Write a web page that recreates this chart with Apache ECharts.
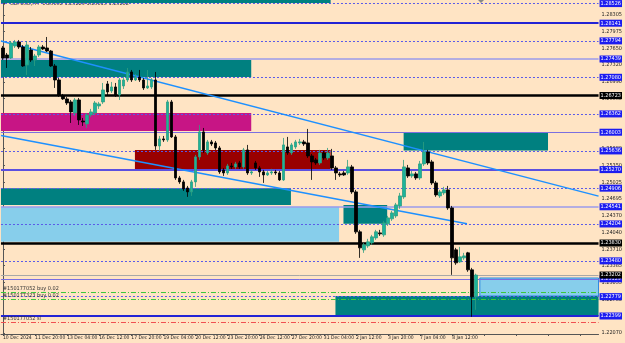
<!DOCTYPE html>
<html><head><meta charset="utf-8">
<script src="https://cdn.jsdelivr.net/npm/echarts@6/dist/echarts.min.js"></script>
<style>html,body{margin:0;padding:0;background:#FFE4C4;}#c{width:625px;height:343px;}</style>
</head><body><div id="c"></div>
<script>
// ---- data ----
const times = [
'10 Dec 12:00','10 Dec 16:00','10 Dec 20:00',
'11 Dec 00:00','11 Dec 04:00','11 Dec 08:00','11 Dec 12:00','11 Dec 16:00','11 Dec 20:00',
'12 Dec 00:00','12 Dec 04:00','12 Dec 08:00','12 Dec 12:00','12 Dec 16:00','12 Dec 20:00',
'13 Dec 00:00','13 Dec 04:00','13 Dec 08:00','13 Dec 12:00','13 Dec 16:00','13 Dec 20:00',
'16 Dec 00:00','16 Dec 04:00','16 Dec 08:00','16 Dec 12:00','16 Dec 16:00','16 Dec 20:00',
'17 Dec 00:00','17 Dec 04:00','17 Dec 08:00','17 Dec 12:00','17 Dec 16:00','17 Dec 20:00',
'18 Dec 00:00','18 Dec 04:00','18 Dec 08:00','18 Dec 12:00','18 Dec 16:00','18 Dec 20:00',
'19 Dec 00:00','19 Dec 04:00','19 Dec 08:00','19 Dec 12:00','19 Dec 16:00','19 Dec 20:00',
'20 Dec 00:00','20 Dec 04:00','20 Dec 08:00','20 Dec 12:00','20 Dec 16:00','20 Dec 20:00',
'23 Dec 00:00','23 Dec 04:00','23 Dec 08:00','23 Dec 12:00','23 Dec 16:00','23 Dec 20:00',
'24 Dec 00:00','24 Dec 04:00','24 Dec 08:00','24 Dec 12:00',
'26 Dec 00:00','26 Dec 04:00','26 Dec 08:00','26 Dec 12:00','26 Dec 16:00','26 Dec 20:00',
'27 Dec 00:00','27 Dec 04:00','27 Dec 08:00','27 Dec 12:00','27 Dec 16:00','27 Dec 20:00',
'30 Dec 00:00','30 Dec 04:00','30 Dec 08:00','30 Dec 12:00','30 Dec 16:00','30 Dec 20:00',
'31 Dec 00:00','31 Dec 04:00','31 Dec 08:00','31 Dec 12:00','31 Dec 16:00','31 Dec 20:00',
'2 Jan 00:00','2 Jan 04:00','2 Jan 08:00','2 Jan 12:00','2 Jan 16:00','2 Jan 20:00',
'3 Jan 00:00','3 Jan 04:00','3 Jan 08:00','3 Jan 12:00','3 Jan 16:00','3 Jan 20:00',
'6 Jan 00:00','6 Jan 04:00','6 Jan 08:00','6 Jan 12:00','6 Jan 16:00','6 Jan 20:00',
'7 Jan 00:00','7 Jan 04:00','7 Jan 08:00','7 Jan 12:00','7 Jan 16:00','7 Jan 20:00',
'8 Jan 00:00','8 Jan 04:00','8 Jan 08:00','8 Jan 12:00','8 Jan 16:00','8 Jan 20:00',
'9 Jan 00:00','9 Jan 04:00','9 Jan 08:00','9 Jan 12:00'
];
const firstLabel = '10 Dec 2024';
const open = [1.27655,1.27518,1.27459,1.27694,1.27773,1.27675,1.27322,1.27616,1.27420,1.27518,
1.27675,1.27655,1.27596,1.27302,1.27028,1.26714,1.26656,1.26597,1.26381,1.26636,
1.26223,1.26166,1.26342,1.26381,1.26518,1.26597,1.26950,1.26812,1.26891,1.26734,
1.26910,1.27028,1.27185,1.27028,1.27087,1.27028,1.26871,1.26891,1.27028,1.25734,
1.25872,1.25852,1.26597,1.25911,1.25107,1.25029,1.24911,1.24833,1.25029,1.25519,
1.26009,1.25597,1.25813,1.25793,1.25695,1.25264,1.25205,1.25342,1.25323,1.25401,
1.25323,1.25656,1.25205,1.25401,1.25303,1.25225,1.25166,1.25205,1.25225,1.25205,
1.25068,1.25715,1.25597,1.25715,1.25793,1.25813,1.25793,1.25538,1.25460,1.25401,
1.25597,1.25499,1.25538,1.25303,1.25186,1.25205,1.25205,1.25323,1.24833,1.24049,
1.23696,1.23774,1.23833,1.23931,1.24029,1.23990,1.24206,1.24304,1.24362,1.24558,
1.24735,1.25303,1.25146,1.25186,1.25107,1.25382,1.25617,1.25421,1.25009,1.24754,
1.24813,1.24872,1.24519,1.23696,1.23461,1.23539,1.23637,1.23304,1.22775];
const high = [1.27694,1.27557,1.27792,1.27812,1.27812,1.27714,1.27792,1.27675,1.27538,1.27714,
1.27714,1.27871,1.27616,1.27342,1.27067,1.26754,1.26695,1.26636,1.26675,1.26675,
1.26283,1.26381,1.26460,1.26616,1.26597,1.26969,1.27008,1.26989,1.26969,1.27067,
1.27087,1.27263,1.27224,1.27146,1.27224,1.27067,1.27224,1.27067,1.27185,1.25930,
1.25930,1.26636,1.26636,1.25950,1.25146,1.25068,1.24950,1.25068,1.25558,1.26146,
1.26087,1.25852,1.25852,1.25832,1.25734,1.25303,1.25382,1.25401,1.25421,1.25440,
1.25695,1.25754,1.25264,1.25440,1.25342,1.25264,1.25244,1.25284,1.25264,1.25244,
1.25891,1.25911,1.25793,1.25852,1.25872,1.25852,1.26068,1.25578,1.25499,1.25656,
1.25636,1.25695,1.25676,1.25342,1.25225,1.25244,1.25460,1.25362,1.24872,1.24088,
1.23833,1.23912,1.23990,1.24088,1.24088,1.24264,1.24362,1.24460,1.24617,1.24813,
1.25460,1.25362,1.25244,1.25225,1.25440,1.25813,1.25656,1.25460,1.25048,1.24872,
1.24931,1.24950,1.24558,1.23735,1.23755,1.23637,1.23657,1.23343,1.23229];
const low = [1.27420,1.27263,1.27440,1.27655,1.27636,1.27283,1.27126,1.27381,1.27302,1.27479,
1.27616,1.27577,1.27283,1.26871,1.26695,1.26636,1.26538,1.26185,1.26322,1.26146,
1.26126,1.26087,1.26303,1.26342,1.26460,1.26558,1.26714,1.26773,1.26695,1.26636,
1.26852,1.26989,1.26989,1.27008,1.26989,1.26832,1.26852,1.26852,1.25656,1.25636,
1.25813,1.25813,1.25891,1.25068,1.24990,1.24852,1.24735,1.24754,1.24931,1.25460,
1.25597,1.25558,1.25734,1.25656,1.25186,1.25146,1.25166,1.25284,1.25284,1.25284,
1.25284,1.25166,1.25166,1.25264,1.25127,1.25009,1.25146,1.25166,1.25166,1.25048,
1.25048,1.25558,1.25558,1.25676,1.25754,1.25734,1.25499,1.25068,1.25362,1.25362,
1.25460,1.25460,1.25264,1.25068,1.25127,1.25146,1.25166,1.24794,1.24010,1.23539,
1.23637,1.23735,1.23794,1.23892,1.23970,1.23951,1.24166,1.24264,1.24323,1.24500,
1.24696,1.25107,1.25107,1.25068,1.25068,1.25342,1.25362,1.24970,1.24735,1.24715,
1.24774,1.24480,1.23206,1.23402,1.23441,1.23500,1.23265,1.22383,1.22520];
const close = [1.27459,1.27459,1.27753,1.27773,1.27675,1.27302,1.27714,1.27420,1.27498,1.27675,
1.27636,1.27596,1.27302,1.27028,1.26734,1.26656,1.26577,1.26401,1.26636,1.26244,
1.26205,1.26342,1.26401,1.26577,1.26558,1.26832,1.26793,1.26891,1.26734,1.27028,
1.27028,1.27185,1.27028,1.27087,1.27028,1.26871,1.26910,1.27028,1.25734,1.25872,
1.25852,1.26597,1.25911,1.25107,1.25029,1.24892,1.24833,1.25029,1.25519,1.26009,
1.25656,1.25813,1.25774,1.25695,1.25225,1.25205,1.25342,1.25323,1.25382,1.25323,
1.25656,1.25205,1.25225,1.25303,1.25225,1.25166,1.25205,1.25225,1.25205,1.25068,
1.25754,1.25597,1.25754,1.25813,1.25813,1.25774,1.25538,1.25421,1.25401,1.25597,
1.25499,1.25597,1.25303,1.25205,1.25166,1.25166,1.25323,1.24833,1.24049,1.23735,
1.23794,1.23853,1.23951,1.24049,1.24010,1.24225,1.24323,1.24421,1.24578,1.24754,
1.25323,1.25146,1.25186,1.25107,1.25382,1.25617,1.25401,1.25009,1.24774,1.24833,
1.24872,1.24519,1.23539,1.23441,1.23559,1.23578,1.23304,1.22775,1.23202];

const priceTicks = [1.22070,1.22400,1.22730,1.23055,1.23385,1.23710,1.24040,1.24370,1.24695,1.25025,
1.25350,1.25680,1.26005,1.26335,1.26660,1.26990,1.27320,1.27650,1.27975,1.28305];

// horizontal levels (price) and their kind
const levelPrices = [1.28526,1.28141,1.27794,1.27439,1.27080,1.26723,1.26362,1.26003,1.25636,1.25270,
1.24906,1.24541,1.24204,1.23830,1.23480,1.23129,1.22779,1.22399];
const levelKinds = ['dot','blue','dot','lav','dot','black','dot','purple','dot','slate',
'dot','lav','dot','black','dot','purple','dot','blue'];
const bidPrice = 1.23202;

// order lines
const orderPrices = [1.22863,1.22726,1.22267];
const orderTexts = ['#150177052 buy 0.02','#150177323 buy 0.02','#150177052 sl'];
const orderKinds = ['buy','buy','sl'];

// zones (bar index start/end, price low/high)
const zoneStart = [-0.5,-0.5,-0.5,32.9,99.9,-0.5,-0.5,84.9,118.9,82.9];
const zoneEnd   = [81.7,61.9,61.9,81.7,135.9,71.8,83.8,95.8,148.5,148.5];
const zoneLow   = [1.28537,1.27087,1.26028,1.25264,1.25643,1.24577,1.23856,1.24206,1.22791,1.22399];
const zoneHigh  = [1.28596,1.27420,1.26381,1.25656,1.25994,1.24903,1.24542,1.24577,1.23144,1.22791];
const zoneKinds = ['teal','teal','magenta','maroon','teal','teal','sky','teal','skyb','teal'];

// trend lines [bar index, price]
const trend1 = [[-0.5,1.27790],[148.5,1.24750]];
const trend2 = [[-0.5,1.25940],[115.7,1.24210]];

const titleText = 'GBPUSD,H4  1.23062 1.23229 1.23015 1.23202';

// ---- styles ----
const FONT = "'Liberation Sans Narrow','DejaVu Sans Condensed','Liberation Sans',sans-serif";
const SLOTS = 149;
const levelStyle = {
  dot:    {color:'#5A5AE8', width:1, type:[2,2]},
  blue:   {color:'#2323D5', width:2, type:'solid'},
  lav:    {color:'#9B9BEB', width:1.5, type:'solid'},
  black:  {color:'#000000', width:2.5, type:'solid'},
  purple: {color:'#7B6FE0', width:1, type:'solid'},
  slate:  {color:'#5B4FE0', width:2, type:'solid'}
};
const zoneStyle = {
  teal:{color:'#008080'}, magenta:{color:'#C71585'}, maroon:{color:'#990000'},
  sky:{color:'#87CEEB'}, skyb:{color:'#87CEEB', borderColor:'#2F86E0', borderWidth:1}
};
const orderStyle = {
  buy:{color:'#3CC83C', width:1, type:[5,2,1,2]},
  sl:{color:'#F05050', width:1, type:[5,2,1,2]}
};

const categories = times.slice();
for (let i = times.length; i < SLOTS; i++) categories.push('+' + i);

function boxLabel(bg){
  return {show:true, position:'end', distance:1, formatter:(p)=>Number(p.value).toFixed(5),
    color:'#fff', backgroundColor:bg, fontSize:5.5, fontFamily:FONT, padding:[1,1,0,1], lineHeight:6};
}

const lineData = levelPrices.map((p,i)=>({
  yAxis:p, lineStyle:Object.assign({}, levelStyle[levelKinds[i]]),
  label: boxLabel(levelKinds[i]==='black' ? '#000' : '#1C1CF0')
}));
lineData.push({yAxis:bidPrice, lineStyle:{color:'#A8A8A8', width:1, type:'solid'}, label:boxLabel('#000')});
orderPrices.forEach((p,i)=>{
  lineData.push({yAxis:p, lineStyle:Object.assign({}, orderStyle[orderKinds[i]]),
    label:{show:true, position:'insideStartTop', distance:[2,1], formatter:orderTexts[i],
      color:'#333', fontSize:5.5, fontFamily:FONT}});
});

const areaData = zoneStart.map((s,i)=>[
  {xAxis:s, yAxis:zoneLow[i], itemStyle:Object.assign({opacity:1}, zoneStyle[zoneKinds[i]])},
  {xAxis:zoneEnd[i], yAxis:zoneHigh[i]}
]);

const chart = echarts.init(document.getElementById('c'), null, {renderer:'canvas'});
chart.setOption({
  animation:false,
  backgroundColor:'#FFE4C4',
  grid:{left:-1.5, right:22, top:0, bottom:9, containLabel:false},
  xAxis:[{
    type:'category', data:categories, boundaryGap:true,
    axisLine:{show:true, lineStyle:{color:'#555', width:1}},
    axisTick:{show:true, interval:7, alignWithLabel:true, length:2, lineStyle:{color:'#555'}},
    axisLabel:{interval:7, showMinLabel:true, hideOverlap:false, align:'left', margin:1.5, fontSize:5, fontFamily:FONT, color:'#222',
      formatter:(v,i)=> i>=times.length ? '' : (i===0 ? firstLabel : v)},
    splitLine:{show:false}
  },{
    type:'value', min:-0.5, max:SLOTS-0.5, show:false
  }],
  yAxis:{
    type:'value', position:'right', min:1.22046, max:1.28596, scale:true,
    axisLine:{show:true, lineStyle:{color:'#555', width:1}},
    axisTick:{show:true, length:2, customValues:priceTicks, lineStyle:{color:'#555'}},
    axisLabel:{customValues:priceTicks, margin:3, fontSize:5.5, fontFamily:FONT, color:'#222',
      formatter:(v)=>Number(v).toFixed(5)},
    splitLine:{show:false}
  },
  graphic:[
    {type:'text', left:2, top:1, style:{text:'▼', fontSize:5, fill:'#444'}},
    {type:'text', left:10, top:1, style:{text:titleText, fontSize:5.5, fontFamily:FONT, fill:'#333'}},
    {type:'polygon', shape:{points:[[478,0],[484,0],[481,3]]}, style:{fill:'#888'}}
  ],
  series:[
    {type:'line', xAxisIndex:1, data:[], z:1,
     markArea:{silent:true, z:1, data:areaData}},
    {type:'line', xAxisIndex:0, data:[], z:5,
     markLine:{silent:true, z:5, precision:5, symbol:['none','none'], animation:false, data:lineData}},
    {type:'line', xAxisIndex:1, data:trend1, z:6, symbol:'none', lineStyle:{color:'#1E90FF', width:1.5}},
    {type:'line', xAxisIndex:1, data:trend2, z:6, symbol:'none', lineStyle:{color:'#1E90FF', width:1.5}},
    {type:'candlestick', xAxisIndex:0, z:10, barWidth:3,
     data:open.map((o,i)=>[o, close[i], low[i], high[i]]),
     itemStyle:{color:'#1DB39B', color0:'#000000', borderColor:'#2E9E80', borderColor0:'#000000', borderWidth:0.8}}
  ]
});
</script></body></html>
